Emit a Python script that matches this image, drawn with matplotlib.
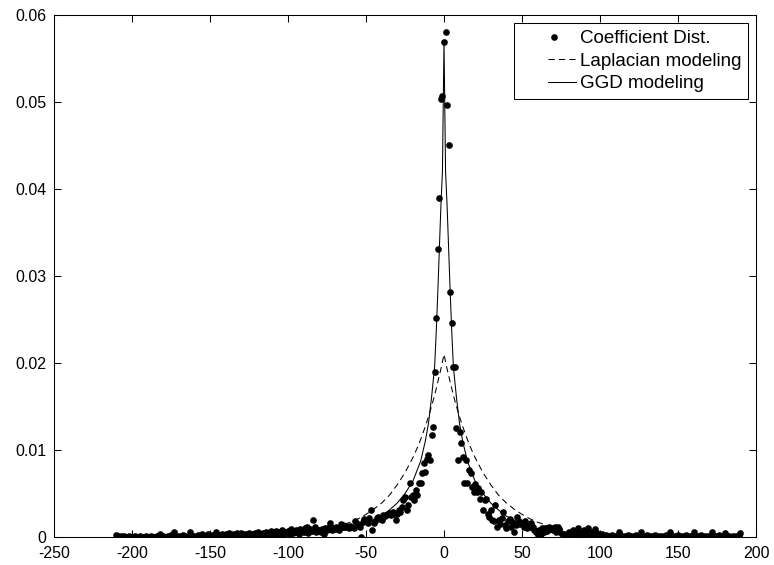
import numpy as np
import matplotlib
matplotlib.use('Agg')
import matplotlib.pyplot as plt
from matplotlib.ticker import FuncFormatter
from matplotlib.legend_handler import HandlerLine2D

# coefficient histogram: one bin per integer value, heights in units of 1e-4
coef_bins = np.arange(-210, 191)
coef_freq = np.array([
    2, 1, 0, 1, 0, 1, 0, 0, 1, 0,          # -210 .. -201
    0, 0, 1, 0, 0, 1, 0, 0, 0, 1,          # -200 .. -191
    0, 0, 1, 0, 0, 0, 1, 0, 4, 0,          # -190 .. -181
    1, 0, 0, 1, 0, 2, 0, 6, 0, 1,          # -180 .. -171
    0, 1, 0, 2, 1, 0, 0, 6, 1, 0,          # -170 .. -161
    1, 0, 2, 1, 0, 3, 1, 0, 2, 4,          # -160 .. -151
    1, 2, 0, 3, 6, 1, 2, 0, 4, 2,          # -150 .. -141
    3, 1, 5, 2, 0, 4, 2, 5, 1, 3,          # -140 .. -131
    5, 2, 4, 1, 3, 5, 2, 4, 1, 5,          # -130 .. -121
    3, 6, 2, 4, 5, 1, 6, 3, 4, 7,          # -120 .. -111
    2, 5, 7, 3, 6, 4, 8, 3, 6, 5,          # -110 .. -101
    7, 4, 9, 5, 6, 8, 7, 3, 9, 8,          # -100 .. -91
    6, 10, 12, 5, 9, 7, 20, 11, 6, 8,      # -90 .. -81
    8, 6, 9, 4, 10, 8, 12, 16, 8, 10,      # -80 .. -71
    9, 12, 10, 8, 15, 14, 11, 13, 12, 10,  # -70 .. -61
    13, 12, 10, 18, 14, 15, 12, 0, 17, 21, # -60 .. -51
    19, 16, 22, 31, 8, 16, 18, 22, 23, 21, # -50 .. -41
    20, 25, 24, 25, 27, 28, 25, 29, 27, 20,  # -40 .. -31
    27, 31, 29, 35, 43, 46, 31, 37, 62, 46,  # -30 .. -21
    48, 43, 54, 48, 62, 62, 73, 85, 75, 90,  # -20 .. -11
    94, 89, 117, 126, 190, 252, 331, 390, 503, 507,  # -10 .. -1
    569, 581, 496, 451, 282, 246, 195, 195, 125, 89, # 0 .. 9
    121, 108, 92, 62, 89, 62, 77, 74, 58, 52,  # 10 .. 19
    61, 52, 56, 44, 52, 31, 43, 44, 27, 23,    # 20 .. 29
    31, 20, 18, 37, 12, 20, 15, 22, 29, 14,    # 30 .. 39
    10, 18, 21, 12, 16, 6, 14, 23, 18, 15,     # 40 .. 49
    16, 12, 18, 10, 14, 12, 16, 11, 8, 6,      # 50 .. 59
    2, 8, 4, 10, 6, 10, 7, 11, 9, 10,          # 60 .. 69
    8, 12, 6, 12, 9, 5, 2, 4, 1, 3,            # 70 .. 79
    6, 2, 5, 8, 3, 7, 10, 4, 6, 3,             # 80 .. 89
    8, 5, 10, 2, 6, 4, 3, 9, 5, 2,             # 90 .. 99
    1, 3, 0, 1, 2, 0, 1, 0, 2, 1,              # 100 .. 109
    0, 1, 6, 2, 1, 0, 1, 0, 2, 0,              # 110 .. 119
    1, 0, 1, 2, 0, 1, 6, 1, 0, 1,              # 120 .. 129
    2, 1, 0, 1, 0, 2, 1, 0, 1, 0,              # 130 .. 139
    1, 0, 2, 1, 0, 6, 1, 0, 1, 0,              # 140 .. 149
    2, 1, 0, 1, 0, 2, 1, 0, 1, 0,              # 150 .. 159
    6, 1, 0, 1, 0, 2, 0, 1, 0, 1,              # 160 .. 169
    0, 1, 6, 0, 1, 0, 2, 0, 1, 0,              # 170 .. 179
    5, 1, 0, 1, 0, 1, 0, 1, 0, 1, 5,           # 180 .. 190
]) * 1e-4

# fitted Laplacian density, sampled at a few abscissae
lap_x = [-210, -150, -100, -80, -70, -60, -55, -50, -45, -40, -35, -30, -25, -20,
         -17, -15, -12, -10, -8, -6, -4, -2, 0, 2, 4, 6, 8, 10, 12, 15, 17, 20,
         25, 30, 35, 40, 45, 50, 55, 60, 70, 80, 100, 150, 190]
lap_y = [0.0, 0.00004, 0.0003, 0.0007, 0.0011, 0.0017, 0.0021, 0.0026, 0.0032,
         0.0039, 0.0048, 0.0060, 0.0074, 0.0091, 0.0103, 0.0112, 0.0127, 0.0138,
         0.0150, 0.0163, 0.0178, 0.0193, 0.0210, 0.0193, 0.0178, 0.0163, 0.0150,
         0.0138, 0.0127, 0.0112, 0.0103, 0.0091, 0.0074, 0.0060, 0.0048, 0.0039,
         0.0032, 0.0026, 0.0021, 0.0017, 0.0011, 0.0007, 0.0003, 0.00004, 0.0]

# fitted generalized Gaussian density
ggd_x = [-210, -150, -100, -80, -70, -60, -50, -40, -35, -30, -25, -20, -15, -12,
         -10, -8, -6, -5, -4, -3, -2, -1, 0, 1, 2, 3, 4, 5, 6, 8, 10, 12, 15, 20,
         25, 30, 35, 40, 50, 60, 70, 80, 100, 150, 190]
ggd_y = [0.0, 0.00002, 0.0001, 0.0004, 0.0006, 0.0009, 0.0015, 0.0024, 0.0031,
         0.0039, 0.0050, 0.0064, 0.0087, 0.0110, 0.0130, 0.0160, 0.0196, 0.0235,
         0.0280, 0.0330, 0.0380, 0.0420, 0.0570, 0.0420, 0.0380, 0.0330, 0.0280,
         0.0235, 0.0196, 0.0160, 0.0130, 0.0110, 0.0087, 0.0064, 0.0050, 0.0039,
         0.0031, 0.0024, 0.0015, 0.0009, 0.0006, 0.0004, 0.0001, 0.00002, 0.0]

x_ticks = list(range(-250, 201, 50))
y_ticks = [0, 0.01, 0.02, 0.03, 0.04, 0.05, 0.06]

plt.rcParams['font.family'] = ['Liberation Sans', 'DejaVu Sans']
plt.rcParams['axes.unicode_minus'] = False

fig = plt.figure(figsize=(7.74, 5.65), dpi=100)
ax = fig.add_axes([54 / 774, 28 / 565, 702 / 774, 522 / 565])

dots, = ax.plot(coef_bins, coef_freq, 'o', color='k', ms=4.8, mew=0,
                label='Coefficient Dist.')
lap, = ax.plot(lap_x, lap_y, color='k', lw=0.75, dashes=(6, 4),
               label='Laplacian modeling')
ggd, = ax.plot(ggd_x, ggd_y, color='k', lw=0.75, label='GGD modeling')

ax.set_xlim(-250, 200)
ax.set_ylim(0, 0.06)
ax.set_xticks(x_ticks)
ax.set_yticks(y_ticks)
fmt = FuncFormatter(lambda v, _: '{:g}'.format(round(v, 6)))
ax.xaxis.set_major_formatter(fmt)
ax.yaxis.set_major_formatter(fmt)
ax.tick_params(direction='in', top=True, right=True, length=5, width=0.75,
               labelsize=11.5)
ax.tick_params(axis='x', pad=6.5)
ax.tick_params(axis='y', pad=5.5)
for s in ax.spines.values():
    s.set_linewidth(0.75)

leg = ax.legend(handler_map={dots: HandlerLine2D(numpoints=1, xpad=0.56),
                             lap: HandlerLine2D(xpad=1.41),
                             ggd: HandlerLine2D(xpad=1.41)},
                loc='upper right', fontsize=13.5, fancybox=False,
                edgecolor='k', framealpha=1, handlelength=2.9,
                handletextpad=0.2, borderpad=0.37, borderaxespad=0.43,
                labelspacing=0.29)
leg.get_frame().set_linewidth(0.75)

fig.savefig('out.png', dpi=100)
